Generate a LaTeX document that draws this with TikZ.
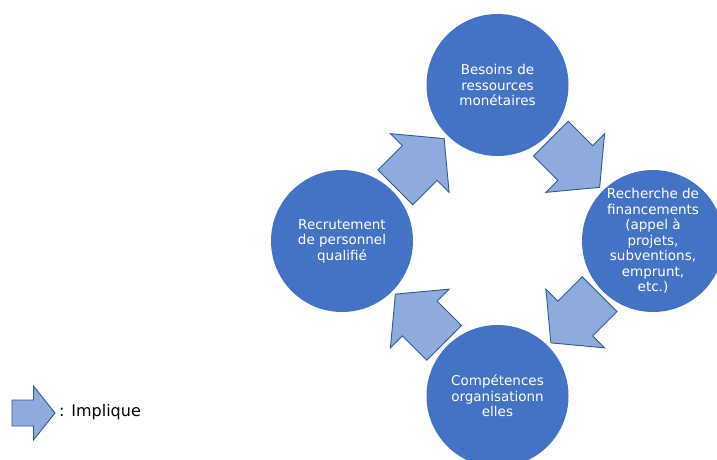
\documentclass[tikz,border=0pt]{standalone}
\usepackage{fontspec}
\setmainfont{DejaVu Sans}
\usetikzlibrary{calc}
\definecolor{circblue}{HTML}{4472C4}
\definecolor{arrfill}{HTML}{8FAADC}
\definecolor{arrline}{HTML}{2F5D8A}
\tikzset{
  circ/.style={circle, fill=circblue, draw=none, minimum size=142pt, inner sep=0pt,
    text=white, align=center, font=\fontsize{13.5}{15.5}\selectfont},
  arrowstyle/.style={fill=arrfill, draw=arrline, line width=0.9pt, line join=miter},
  bigarrow/.pic={\draw[arrowstyle] (-34.5,-24.5) -- (0,-24.5) -- (0,-41.5) -- (34.5,0)
      -- (0,41.5) -- (0,24.5) -- (-34.5,24.5) -- cycle;},
  legarrow/.pic={\draw[arrowstyle] (-21.5,-13) -- (0,-13) -- (0,-27) -- (21.5,0)
      -- (0,27) -- (0,13) -- (-21.5,13) -- cycle;}
}
\begin{document}
\begin{tikzpicture}[x=1pt,y=-1pt]
\useasboundingbox (0,0) rectangle (717,460);
\clip (0,0) rectangle (717,460);
\node[circ] (top) at (497.5,85) {Besoins de\\ressources\\monétaires};
\node[circ] (right) at (653,241) {Recherche de\\financements\\(appel à\\projets,\\subventions,\\emprunt,\\etc.)};
\node[circ] (bottom) at (497.5,396) {Compétences\\organisationn\\elles};
\node[circ] (left) at (342,241) {Recrutement\\de personnel\\qualifié};
\pic[rotate=45] (a1) at ($(left)!0.5!(top)$) {bigarrow};
\pic[rotate=-45] (a2) at ($(top)!0.5!(right)$) {bigarrow};
\pic[rotate=-135] (a3) at ($(right)!0.5!(bottom)$) {bigarrow};
\pic[rotate=135] (a4) at ($(bottom)!0.5!(left)$) {bigarrow};
\pic (leg) at (33.5,413) {legarrow};
\node[anchor=west, inner sep=0pt, font=\fontsize{16}{18}\selectfont] (legtext) at (59,412) {: Implique};
\end{tikzpicture}
\end{document}
